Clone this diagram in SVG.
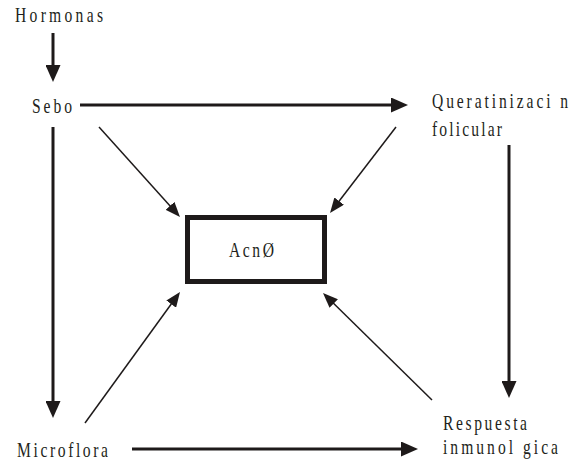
<svg xmlns="http://www.w3.org/2000/svg" width="574" height="461" viewBox="0 0 574 461">
<style>
text{font-family:"Liberation Serif","Times New Roman",serif;font-size:20px;fill:#231f20}
.thick{stroke:#1e1a1a;stroke-width:3;fill:none}
.thin{stroke:#1e1a1a;stroke-width:1.5;fill:none}
</style>
<defs>
<marker id="ah" markerUnits="userSpaceOnUse" markerWidth="17" markerHeight="15" refX="11" refY="7.5" orient="auto"><path d="M0,0 L17,7.5 L0,15 z" fill="#1e1a1a"/></marker>
<marker id="ahs" markerUnits="userSpaceOnUse" markerWidth="15" markerHeight="12" refX="10" refY="6" orient="auto"><path d="M0,0 L15,6 L0,12 z" fill="#1e1a1a"/></marker>
</defs>
<rect width="574" height="461" fill="#fff"/>
<g id="connectors">
<line class="thick" x1="53" y1="33" x2="53" y2="76" marker-end="url(#ah)"/>
<line class="thick" x1="80" y1="105" x2="402" y2="105" marker-end="url(#ah)"/>
<line class="thick" x1="53" y1="127" x2="53" y2="412" marker-end="url(#ah)"/>
<line class="thick" x1="509" y1="145" x2="509" y2="392" marker-end="url(#ah)"/>
<line class="thick" x1="132" y1="449" x2="412" y2="449" marker-end="url(#ah)"/>
<line class="thin" x1="99" y1="127" x2="176.65" y2="213.28" marker-end="url(#ahs)"/>
<line class="thin" x1="396" y1="127" x2="333.05" y2="209.03" marker-end="url(#ahs)"/>
<line class="thin" x1="85" y1="423" x2="177.07" y2="296.05" marker-end="url(#ahs)"/>
<line class="thin" x1="432" y1="400" x2="326.57" y2="296.5" marker-end="url(#ahs)"/>
</g>
<g id="hormonas" transform="scale(0.78,1)"><text x="19.23" y="22" textLength="112.82" lengthAdjust="spacing">Hormonas</text></g>
<g id="sebo" transform="scale(0.78,1)"><text x="41.03" y="113" textLength="51.28" lengthAdjust="spacing">Sebo</text></g>
<g id="queratinizacion" transform="scale(0.78,1)"><text x="553.85" y="108" textLength="174.36" lengthAdjust="spacing">Queratinizaci n</text><text x="553.85" y="136" textLength="89.74" lengthAdjust="spacing">folicular</text></g>
<g id="acne"><rect x="187.5" y="217.5" width="137" height="64" fill="none" stroke="#1e1a1a" stroke-width="5"/><g transform="scale(0.78,1)"><text x="293.59" y="257" textLength="57.69" lengthAdjust="spacing">AcnØ</text></g></g>
<g id="microflora" transform="scale(0.78,1)"><text x="21.79" y="457" textLength="116.67" lengthAdjust="spacing">Microflora</text></g>
<g id="respuesta" transform="scale(0.78,1)"><text x="567.95" y="430" textLength="107.69" lengthAdjust="spacing">Respuesta</text><text x="567.95" y="454" textLength="147.44" lengthAdjust="spacing">inmunol gica</text></g>
</svg>
